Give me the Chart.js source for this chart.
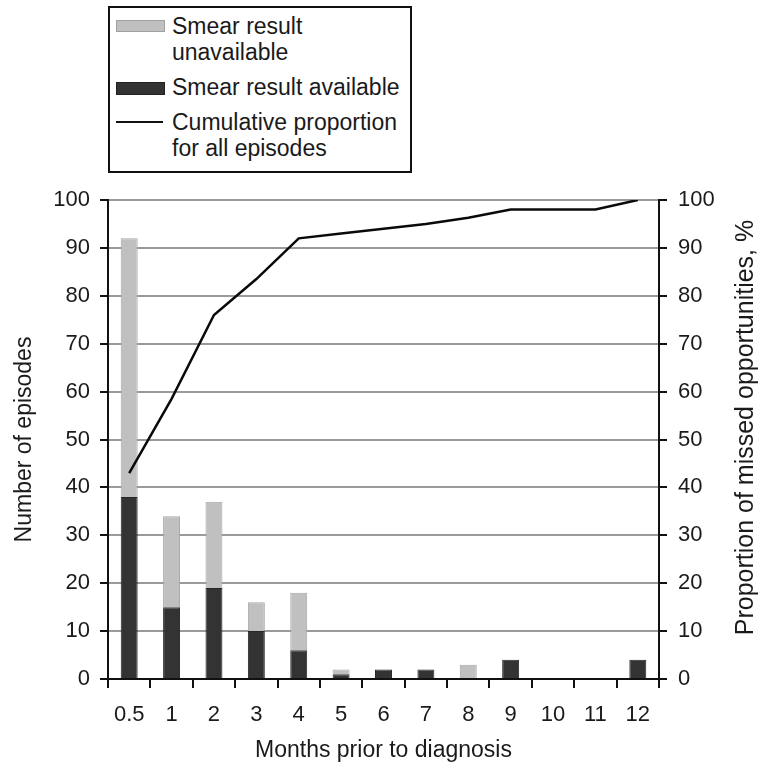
<!DOCTYPE html>
<html>
<head>
<meta charset="utf-8">
<script src="https://cdn.jsdelivr.net/npm/chart.js@4.4.1/dist/chart.umd.min.js"></script>
<style>
  body { margin: 0; background: #fff; font-family: "Liberation Sans", Arial, sans-serif; }
  #wrap { position: relative; width: 761px; height: 773px; }
  #legend {
    position: absolute; left: 108px; top: 6px; width: 300px; height: 163px;
    border: 2px solid #111; background: #fff; color: #1a1a1a; font-size: 23px;
  }
  .item { position: absolute; left: 62px; line-height: 26px; white-space: nowrap; }
  .sw { position: absolute; left: 6px; width: 47px; }
</style>
</head>
<body>
<div id="wrap">
  <canvas id="myChart" width="761" height="773"></canvas>
  <div id="legend">
    <div class="sw" style="top:12px;height:10px;background:#c0c0c0;border:1px solid #a0a0a0;"></div>
    <div class="item" style="top:5px;">Smear result<br>unavailable</div>
    <div class="sw" style="top:74px;height:11px;background:#333;border:1px solid #222;"></div>
    <div class="item" style="top:66px;">Smear result available</div>
    <div class="sw" style="top:113px;height:0;border-top:2px solid #111;"></div>
    <div class="item" style="top:101px;">Cumulative proportion<br>for all episodes</div>
  </div>
</div>
<script>
// Months prior to diagnosis
const months = ['0.5', '1', '2', '3', '4', '5', '6', '7', '8', '9', '10', '11', '12'];
// Episodes with smear result available (bottom of stack)
const smearAvailable = [38, 15, 19, 10, 6, 1, 2, 2, 0, 4, 0, 0, 4];
// Episodes with smear result unavailable (top of stack)
const smearUnavailable = [54, 19, 18, 6, 12, 1, 0, 0, 3, 0, 0, 0, 0];
// Cumulative proportion, %
const cumulative = [43, 58.5, 76, 83.5, 92, 93, 94, 95, 96.3, 98, 98, 98, 100];

const fontFamily = '"Liberation Sans", Arial, sans-serif';
const tickFont = { family: fontFamily, size: 22 };
const titleFont = { family: fontFamily, size: 23 };
const textColor = '#1a1a1a';

// right axis title reads bottom-to-top in the original, so draw it by hand
const rightTitle = {
    id: 'rightTitle',
    afterDraw(chart) {
        const ctx = chart.ctx;
        const area = chart.chartArea;
        ctx.save();
        ctx.translate(746, (area.top + area.bottom) / 2 - 12);
        ctx.rotate(-Math.PI / 2);
        ctx.font = '25px ' + fontFamily;
        ctx.fillStyle = textColor;
        ctx.textAlign = 'center';
        ctx.textBaseline = 'middle';
        ctx.fillText('Proportion of missed opportunities, %', 0, 0);
        ctx.restore();
    },
};

const data = {
    labels: months,
    datasets: [
        {
            type: 'line',
            label: 'Cumulative proportion for all episodes',
            data: cumulative,
            yAxisID: 'y2',
            borderColor: '#0a0a0a',
            borderWidth: 2.5,
            pointRadius: 0,
            tension: 0,
            order: 0,
        },
        {
            type: 'bar',
            label: 'Smear result available',
            data: smearAvailable,
            backgroundColor: '#333333',
            borderColor: '#262626',
            borderWidth: 1,
            barPercentage: 0.4,
            categoryPercentage: 1,
            yAxisID: 'y',
            order: 1,
        },
        {
            type: 'bar',
            label: 'Smear result unavailable',
            data: smearUnavailable,
            backgroundColor: '#c0c0c0',
            borderColor: '#a6a6a6',
            borderWidth: 1,
            barPercentage: 0.4,
            categoryPercentage: 1,
            yAxisID: 'y',
            order: 1,
        },
    ],
};

const config = {
    data: data,
    options: {
        responsive: false,
        animation: false,
        layout: { padding: { top: 200, left: 0, right: 0, bottom: 0 } },
        plugins: {
            legend: { display: false },
            tooltip: { enabled: false },
        },
        scales: {
            x: {
                stacked: true,
                offset: true,
                grid: { drawOnChartArea: false, offset: true, tickColor: '#111', tickLength: 9, lineWidth: 2 },
                border: { color: '#111', width: 2 },
                ticks: { color: textColor, font: tickFont, padding: 14, maxRotation: 0 },
                title: { display: true, text: 'Months prior to diagnosis', color: textColor, font: titleFont, padding: { top: 4, bottom: 9 } },
                afterFit: (scale) => { scale.height = 94; },
            },
            y: {
                stacked: true,
                position: 'left',
                min: 0,
                max: 100,
                ticks: { stepSize: 10, color: textColor, font: tickFont, padding: 10 },
                grid: { color: '#9a9a9a', lineWidth: 2, tickColor: '#111', tickLength: 8 },
                border: { color: '#111', width: 2 },
                title: { display: true, text: 'Number of episodes', color: textColor, font: titleFont, padding: { top: 11, bottom: 0 } },
                afterFit: (scale) => { scale.width = 108; },
            },
            y2: {
                position: 'right',
                min: 0,
                max: 100,
                ticks: { stepSize: 10, color: textColor, font: tickFont, padding: 11 },
                grid: { drawOnChartArea: false, tickColor: '#111', tickLength: 8, lineWidth: 2 },
                border: { color: '#111', width: 2 },
                afterFit: (scale) => { scale.width = 102; },
            },
        },
    },
    plugins: [rightTitle],
};

new Chart(document.getElementById('myChart'), config);
</script>
</body>
</html>
